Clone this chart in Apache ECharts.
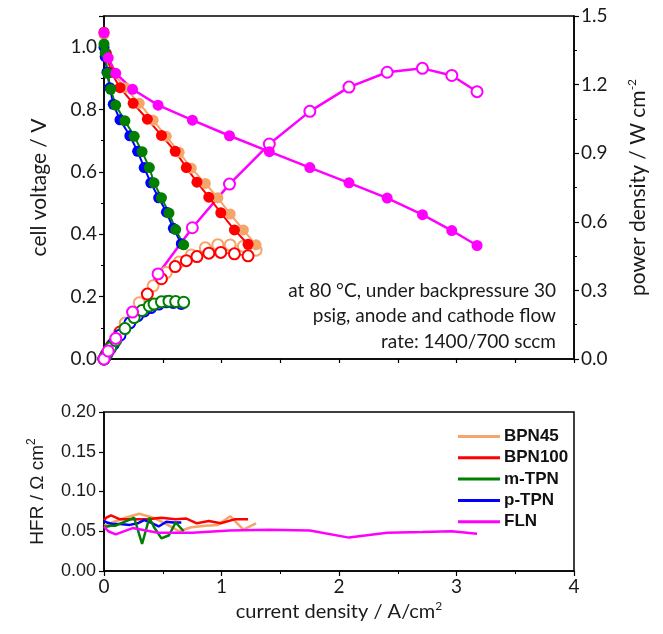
<!DOCTYPE html>
<html>
<head>
<meta charset="utf-8">
<script src="https://cdn.jsdelivr.net/npm/echarts@6/dist/echarts.min.js"></script>
<style>
html,body{margin:0;padding:0;background:#fff;}
#c{width:663px;height:634px;}
</style>
</head>
<body>
<div id="c"></div>
<script>
// ---------- data ----------
// current density (A/cm2)
const jBPN45  = [0, 0.02, 0.07, 0.18, 0.30, 0.418, 0.53, 0.64, 0.743, 0.862, 0.969, 1.074, 1.186, 1.294];
const jBPN100 = [0, 0.02, 0.06, 0.136, 0.248, 0.369, 0.489, 0.606, 0.701, 0.791, 0.892, 0.994, 1.11, 1.226];
const jMTPN   = [0, 0.01, 0.03, 0.057, 0.099, 0.178, 0.257, 0.324, 0.386, 0.426, 0.489, 0.553, 0.61, 0.678];
const jPTPN   = [0, 0.01, 0.025, 0.05, 0.079, 0.136, 0.22, 0.286, 0.342, 0.398, 0.465, 0.531, 0.59, 0.658];
const jFLN    = [0, 0.036, 0.10, 0.243, 0.46, 0.752, 1.068, 1.407, 1.752, 2.085, 2.41, 2.71, 2.96, 3.175];
// cell voltage (V)
const vBPN45  = [1.04, 0.98, 0.92, 0.87, 0.82, 0.766, 0.714, 0.663, 0.612, 0.563, 0.517, 0.465, 0.414, 0.366];
const vBPN100 = [1.048, 0.98, 0.92, 0.87, 0.82, 0.769, 0.717, 0.666, 0.614, 0.567, 0.519, 0.469, 0.414, 0.368];
const vMTPN   = [1.01, 0.982, 0.916, 0.865, 0.814, 0.764, 0.714, 0.665, 0.614, 0.565, 0.517, 0.468, 0.415, 0.366];
const vPTPN   = [1.0, 0.97, 0.92, 0.87, 0.817, 0.767, 0.716, 0.666, 0.614, 0.565, 0.517, 0.471, 0.419, 0.37];
const vFLN    = [1.046, 0.966, 0.916, 0.865, 0.814, 0.766, 0.716, 0.665, 0.614, 0.565, 0.516, 0.463, 0.412, 0.364];
// power density (W/cm2)
const pBPN45  = [0, 0.02, 0.064, 0.157, 0.246, 0.32, 0.378, 0.424, 0.455, 0.486, 0.500, 0.499, 0.493, 0.476];
const pBPN100 = [0, 0.02, 0.055, 0.118, 0.203, 0.284, 0.351, 0.404, 0.43, 0.448, 0.463, 0.466, 0.46, 0.451];
const pMTPN   = [0, 0.01, 0.027, 0.049, 0.08, 0.133, 0.181, 0.212, 0.232, 0.24, 0.25, 0.253, 0.251, 0.248];
const pPTPN   = [0, 0.01, 0.023, 0.044, 0.065, 0.104, 0.158, 0.19, 0.21, 0.225, 0.24, 0.25, 0.247, 0.243];
const pFLN    = [0, 0.035, 0.09, 0.205, 0.372, 0.574, 0.765, 0.94, 1.083, 1.189, 1.254, 1.271, 1.240, 1.169];
// HFR (Ohm cm2)
const hBPN45  = [0.057, 0.058, 0.061, 0.067, 0.072, 0.067, 0.059, 0.050, 0.055, 0.057, 0.058, 0.069, 0.052, 0.060];
const hBPN100 = [0.064, 0.067, 0.070, 0.065, 0.065, 0.065, 0.067, 0.065, 0.066, 0.060, 0.063, 0.060, 0.065, 0.065];
const hMTPN   = [0.056, 0.056, 0.056, 0.057, 0.057, 0.062, 0.067, 0.034, 0.067, 0.055, 0.041, 0.045, 0.061, 0.050];
const hPTPN   = [0.063, 0.062, 0.061, 0.060, 0.059, 0.059, 0.058, 0.060, 0.064, 0.061, 0.056, 0.062, 0.061, 0.061];
const hFLN    = [0.056, 0.050, 0.046, 0.054, 0.048, 0.048, 0.051, 0.052, 0.051, 0.042, 0.048, 0.049, 0.050, 0.047];

const names  = ['BPN45', 'BPN100', 'm-TPN', 'p-TPN', 'FLN'];
const colors = ['#F5A46A', '#FF0000', '#007F00', '#0000FF', '#FF00FF'];
const xTicks = [0, 1, 2, 3, 4];
const note = ['at 80 \u00B0C, under backpressure 30', 'psig, anode and cathode flow', 'rate: 1400/700 sccm'];

// ---------- build ----------
const zip = (a, b) => a.map((x, i) => [x, b[i]]);
const sets = {
  'BPN45':  {j: jBPN45,  v: vBPN45,  p: pBPN45,  h: hBPN45},
  'BPN100': {j: jBPN100, v: vBPN100, p: pBPN100, h: hBPN100},
  'm-TPN':  {j: jMTPN,   v: vMTPN,   p: pMTPN,   h: hMTPN},
  'p-TPN':  {j: jPTPN,   v: vPTPN,   p: pPTPN,   h: hPTPN},
  'FLN':    {j: jFLN,    v: vFLN,    p: pFLN,    h: hFLN}
};
const drawOrder = ['BPN45', 'BPN100', 'p-TPN', 'm-TPN', 'FLN'];
const series = [];
drawOrder.forEach(n => {
  const c = colors[names.indexOf(n)];
  const d = sets[n];
  series.push({
    name: n + ' P', type: 'line', xAxisIndex: 0, yAxisIndex: 1,
    data: zip(d.j, d.p), symbol: 'emptyCircle', symbolSize: 11, showAllSymbol: true,
    lineStyle: {color: c, width: n === 'FLN' ? 2.5 : 1.2},
    itemStyle: {color: c, borderColor: c, borderWidth: 1.3},
    animation: false, z: 2
  });
});
drawOrder.forEach(n => {
  const c = colors[names.indexOf(n)];
  const d = sets[n];
  series.push({
    name: n + ' V', type: 'line', xAxisIndex: 0, yAxisIndex: 0,
    data: zip(d.j, d.v), symbol: 'circle', symbolSize: 11, showAllSymbol: true,
    lineStyle: {color: c, width: n === 'FLN' ? 2.5 : 2},
    itemStyle: {color: c, borderWidth: 0},
    animation: false, z: 3
  });
});
drawOrder.forEach(n => {
  const c = colors[names.indexOf(n)];
  const d = sets[n];
  series.push({
    name: n, type: 'line', xAxisIndex: 1, yAxisIndex: 2,
    data: zip(d.j, d.h), symbol: 'none',
    lineStyle: {color: c, width: 2.5}, itemStyle: {color: c},
    animation: false
  });
});

const tickFont = {fontFamily: 'Lato', fontSize: 19, color: '#1a1a1a'};
const arial = {fontFamily: 'Liberation Sans, Arial', fontSize: 18, color: '#1a1a1a'};
const axLine = {show: true, lineStyle: {color: '#000', width: 1.5}};

const option = {
  backgroundColor: '#fff',
  animation: false,
  grid: [
    {left: 104, top: 16, width: 470, height: 343, show: true, borderColor: '#000', borderWidth: 1.5, containLabel: false},
    {left: 104, top: 412, width: 470, height: 159, show: true, borderColor: '#000', borderWidth: 1.5, containLabel: false}
  ],
  xAxis: [
    {gridIndex: 0, type: 'value', min: 0, max: 4, interval: 0.5,
     axisLine: axLine, axisTick: {show: true, length: 4, lineStyle: {color: '#000', width: 1.2}},
     axisLabel: {show: false}, splitLine: {show: false}},
    {gridIndex: 1, type: 'value', min: xTicks[0], max: xTicks[xTicks.length - 1], interval: 1,
     axisLine: axLine, axisTick: {show: true, length: 5, lineStyle: {color: '#000', width: 1.2}},
     minorTick: {show: true, splitNumber: 2, length: 3, lineStyle: {color: '#000', width: 1}},
     axisLabel: {...tickFont, margin: 6, formatter: v => String(v)},
     splitLine: {show: false},
     name: '{a|current density / A/cm}{s|2}', nameLocation: 'middle', nameGap: 29,
     nameTextStyle: {rich: {a: {fontFamily: 'Lato', fontSize: 20, color: '#1a1a1a', lineHeight: 24},
                            s: {fontFamily: 'Lato', fontSize: 12, color: '#1a1a1a', verticalAlign: 'top', lineHeight: 14}}}}
  ],
  yAxis: [
    {gridIndex: 0, type: 'value', min: 0, max: 1.1, interval: 0.2, position: 'left',
     axisLine: axLine, axisTick: {show: true, length: 5, lineStyle: {color: '#000', width: 1.2}},
     minorTick: {show: true, splitNumber: 2, length: 3, lineStyle: {color: '#000', width: 1}},
     axisLabel: {...tickFont, margin: 7, showMaxLabel: false, formatter: v => v > 1.05 ? '' : v.toFixed(1)},
     splitLine: {show: false},
     name: 'cell voltage / V', nameLocation: 'middle', nameRotate: 90, nameGap: 54,
     nameTextStyle: {fontFamily: 'Lato', fontSize: 21, color: '#1a1a1a'}},
    {gridIndex: 0, type: 'value', min: 0, max: 1.5, interval: 0.3, position: 'right',
     axisLine: axLine, axisTick: {show: true, length: 5, lineStyle: {color: '#000', width: 1.2}},
     minorTick: {show: true, splitNumber: 2, length: 3, lineStyle: {color: '#000', width: 1}},
     axisLabel: {...tickFont, margin: 7, formatter: v => v.toFixed(1)},
     splitLine: {show: false},
     name: '{a|power density / W cm}{s|-2}', nameLocation: 'middle', nameRotate: 90, nameGap: 52,
     nameTextStyle: {rich: {a: {fontFamily: 'Lato', fontSize: 21, color: '#1a1a1a', lineHeight: 24},
                            s: {fontFamily: 'Lato', fontSize: 12, color: '#1a1a1a', verticalAlign: 'top', lineHeight: 14}}}},
    {gridIndex: 1, type: 'value', min: 0, max: 0.2, interval: 0.05, position: 'left',
     axisLine: axLine, axisTick: {show: true, length: 5, lineStyle: {color: '#000', width: 1.2}},
     axisLabel: {...arial, margin: 8, formatter: v => v.toFixed(2)},
     splitLine: {show: false},
     name: '{a|HFR / \u03A9 cm}{s|2}', nameLocation: 'middle', nameRotate: 90, nameGap: 54,
     nameTextStyle: {rich: {a: {fontFamily: 'Liberation Sans, Arial', fontSize: 19, color: '#1a1a1a', lineHeight: 24},
                            s: {fontFamily: 'Liberation Sans, Arial', fontSize: 12, color: '#1a1a1a', verticalAlign: 'top', lineHeight: 14}}}}
  ],
  legend: {
    data: names.map(n => ({name: n, icon: 'rect'})),
    orient: 'vertical', left: 453, top: 423,
    itemWidth: 42, itemHeight: 3, itemGap: 4.3,
    textStyle: {fontFamily: 'Liberation Sans, Arial', fontWeight: 'bold', fontSize: 17, color: '#111', padding: [0, 0, 0, -1], lineHeight: 17},
    selectedMode: false
  },
  graphic: [{
    type: 'text',
    style: {x: 556, y: 278, text: note.join('\n'), textAlign: 'right', textVerticalAlign: 'top',
            font: '19px Lato', lineHeight: 25.5, fill: '#1a1a1a'}
  }],
  series: series
};
const chart = echarts.init(document.getElementById('c'), null, {renderer: 'canvas'});
chart.setOption(option);
</script>
</body>
</html>
